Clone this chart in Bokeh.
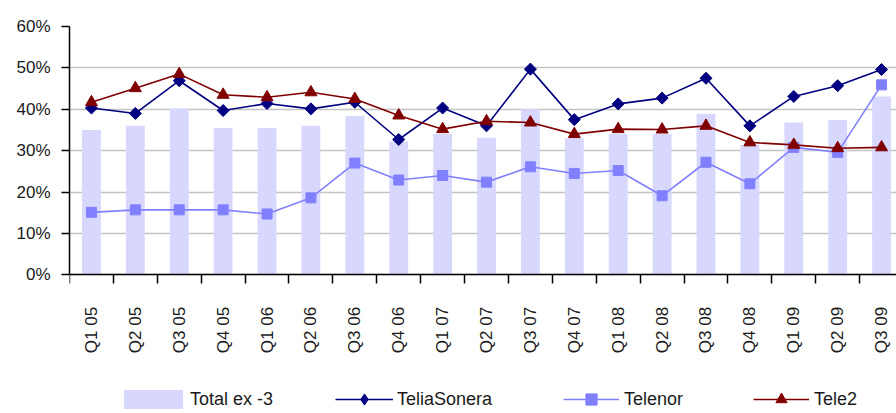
import math
from bokeh.plotting import figure
from bokeh.models import (Range1d, FixedTicker, PrintfTickFormatter, Legend,
                          LegendItem, ColumnDataSource)
from bokeh.embed import file_html
from bokeh.resources import INLINE

quarters = ["Q1 05", "Q2 05", "Q3 05", "Q4 05", "Q1 06", "Q2 06", "Q3 06", "Q4 06",
            "Q1 07", "Q2 07", "Q3 07", "Q4 07", "Q1 08", "Q2 08", "Q3 08", "Q4 08",
            "Q1 09", "Q2 09", "Q3 09"]
total_ex3 = [35.0, 36.0, 40.2, 35.5, 35.5, 36.0, 38.4, 32.2, 34.0, 33.1, 40.0, 33.0,
             34.0, 34.0, 38.9, 31.4, 36.8, 37.4, 43.1]
teliasonera = [40.3, 39.0, 46.9, 39.7, 41.4, 40.1, 41.7, 32.7, 40.3, 36.0, 49.7, 37.5,
               41.3, 42.7, 47.5, 36.0, 43.1, 45.7, 49.6]
telenor = [15.1, 15.7, 15.7, 15.7, 14.7, 18.6, 27.0, 22.9, 24.0, 22.4, 26.1, 24.5,
           25.2, 19.1, 27.2, 22.0, 30.8, 29.6, 45.9]
tele2 = [41.7, 45.1, 48.5, 43.5, 42.9, 44.1, 42.5, 38.5, 35.2, 37.1, 36.8, 34.0,
         35.2, 35.1, 36.0, 32.0, 31.4, 30.6, 30.8]
y_ticks = [0, 10, 20, 30, 40, 50, 60]

xs = [i + 0.5 for i in range(len(quarters))]
src = ColumnDataSource(dict(x=xs, total=total_ex3, ts=teliasonera, tn=telenor, t2=tele2))

FONT = "Liberation Sans"
NAVY = "#000080"
LIGHT = "#8080FF"
RED = "#800000"

p = figure(width=896, height=413, output_backend="svg", toolbar_location=None,
           x_range=Range1d(0, 18.84), y_range=Range1d(-33.5, 60),
           min_border_left=69, min_border_right=0, min_border_top=26,
           min_border_bottom=0)
p.outline_line_color = None
p.background_fill_color = "white"

# x axis drawn at y = 0 inside the frame
p.xaxis.fixed_location = 0
p.xaxis.ticker = FixedTicker(ticks=xs, minor_ticks=list(range(len(quarters) + 1)))
p.xaxis.major_label_overrides = {x: q for x, q in zip(xs, quarters)}
p.xaxis.major_tick_out = 0
p.xaxis.major_tick_in = 0
p.xaxis.minor_tick_out = 9
p.xaxis.minor_tick_in = 0
p.xaxis.minor_tick_line_color = "black"
p.xaxis.minor_tick_line_width = 1.5
p.xaxis.major_label_orientation = math.pi / 2
p.xaxis.major_label_standoff = 23
p.xaxis.major_label_text_font = FONT
p.xaxis.major_label_text_font_size = "17px"
p.xaxis.major_label_text_color = "#1a1a1a"
p.xaxis.axis_line_color = "black"
p.xaxis.axis_line_width = 1.5

# y axis
p.yaxis.bounds = (0, 60)
p.yaxis.ticker = FixedTicker(ticks=y_ticks, minor_ticks=[])
p.yaxis.formatter = PrintfTickFormatter(format="%d%%")
p.yaxis.major_tick_out = 8
p.yaxis.major_tick_in = 0
p.yaxis.major_tick_line_width = 1.5
p.yaxis.major_label_standoff = 11
p.yaxis.major_label_text_font = FONT
p.yaxis.major_label_text_font_size = "17px"
p.yaxis.major_label_text_color = "#1a1a1a"
p.yaxis.axis_line_color = "black"
p.yaxis.axis_line_width = 1.5

p.xgrid.visible = False
p.ygrid.grid_line_color = "#C4C4C4"
p.ygrid.grid_line_width = 1.5

bars = p.vbar(x="x", top="total", width=0.43, fill_color="#D8D8FF", line_color=None, source=src)

ts_line = p.line("x", "ts", line_color=NAVY, line_width=1.6, source=src)
ts_mark = p.scatter("x", "ts", marker="square", angle=math.pi / 4, size=8.5,
                    fill_color=NAVY, line_color=NAVY, source=src)
# diamond used only for the legend key
ts_key = p.scatter("x", "ts", marker="diamond", size=12, fill_color=NAVY,
                   line_color=NAVY, source=src, visible=False)

tn_line = p.line("x", "tn", line_color=LIGHT, line_width=1.6, source=src)
tn_mark = p.scatter("x", "tn", marker="square", size=10,
                    fill_color=LIGHT, line_color=LIGHT, source=src)

t2_line = p.line("x", "t2", line_color=RED, line_width=1.6, source=src)
t2_mark = p.scatter("x", "t2", marker="triangle", size=12,
                    fill_color=RED, line_color=RED, source=src)

common = dict(orientation="horizontal", padding=0, margin=0, border_line_color=None,
              background_fill_alpha=0, label_text_font=FONT,
              label_text_font_size="18px", label_text_color="#1a1a1a",
              inactive_fill_alpha=0)

legends = [
    Legend(items=[LegendItem(label="Total ex -3", renderers=[bars])],
           location=(47, 2), glyph_width=74, glyph_height=24, label_height=24,
           label_standoff=0, **common),
    Legend(items=[LegendItem(label="TeliaSonera", renderers=[ts_line, ts_key])],
           location=(266, 0), glyph_width=58, glyph_height=28, label_height=28,
           label_standoff=4, **common),
    Legend(items=[LegendItem(label="Telenor", renderers=[tn_line, tn_mark])],
           location=(494, 0), glyph_width=56, glyph_height=28, label_height=28,
           label_standoff=5, **common),
    Legend(items=[LegendItem(label="Tele2", renderers=[t2_line, t2_mark])],
           location=(684, 0), glyph_width=56, glyph_height=28, label_height=28,
           label_standoff=5, **common),
]
for lg in legends:
    p.add_layout(lg)

open("out.html", "w").write(file_html(p, INLINE))
